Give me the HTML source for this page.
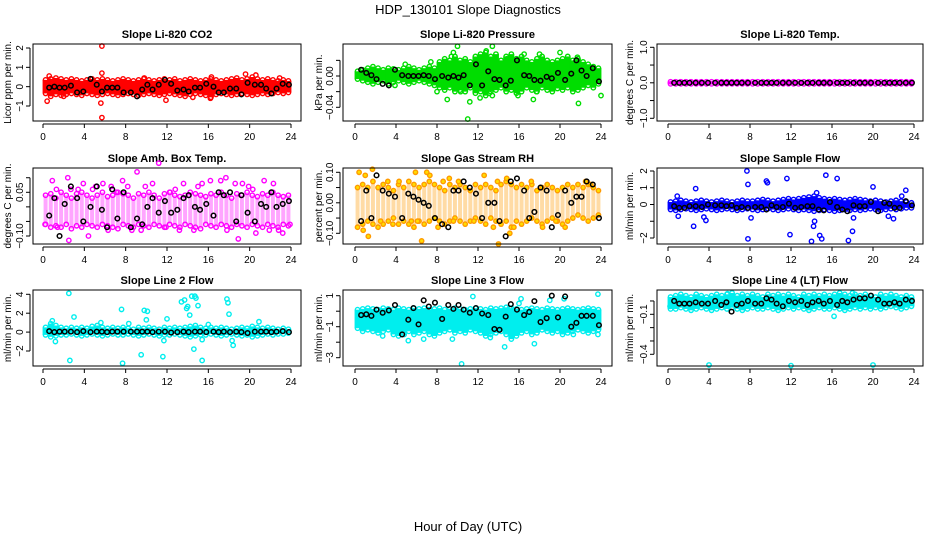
<!DOCTYPE html>
<html><head><meta charset="utf-8">
<style>
html,body{margin:0;padding:0;background:#fff;}
svg{display:block;font-family:"Liberation Sans",Arial,sans-serif;}
</style></head>
<body>
<svg id="fig" width="936" height="540" viewBox="0 0 936 540" xmlns="http://www.w3.org/2000/svg">
<rect width="936" height="540" fill="#fff"/>
<text x="468" y="14" font-size="13" text-anchor="middle">HDP_130101  Slope Diagnostics</text>
<text x="468" y="531" font-size="13" text-anchor="middle">Hour of Day (UTC)</text>
</svg>
<script>
// ---- shared data ----
const xTicks = [0,4,8,12,16,20,24];
const blackHours = [0.6,1.1,1.6,2.1,2.7,3.3,3.9,4.6,5.2,5.7,6.2,6.7,7.2,7.8,8.5,9.1,9.6,10.1,10.6,11.2,11.8,12.4,13,13.6,14.1,14.7,15.2,15.8,16.5,17,17.5,18.1,18.7,19.2,19.8,20.5,21.1,21.6,22.1,22.6,23.2,23.8];

// Panel 1: CO2
const co2Hi = [0.35,0.4,0.45,0.4,0.35,0.4,0.35,0.3,0.35,0.4,0.35,0.4,0.35,0.3,0.35,0.4,0.35,0.3,0.35,0.4,0.35,0.3,0.35,0.4,0.35,0.4,0.3,0.35,0.4,0.35,0.3,0.35,0.4,0.35,0.3,0.35,0.4,0.45,0.35,0.4,0.5,0.4,0.35,0.4,0.35,0.3,0.35,0.3];
const co2Lo = [-0.35,-0.5,-0.4,-0.45,-0.4,-0.35,-0.4,-0.45,-0.35,-0.4,-0.45,-0.4,-0.35,-0.4,-0.45,-0.4,-0.35,-0.4,-0.45,-0.4,-0.35,-0.4,-0.45,-0.4,-0.35,-0.4,-0.45,-0.5,-0.4,-0.35,-0.4,-0.45,-0.55,-0.4,-0.35,-0.4,-0.45,-0.4,-0.35,-0.4,-0.45,-0.4,-0.35,-0.4,-0.35,-0.3,-0.35,-0.3];
const co2OutX = [5.7,5.7,5.6,5.7,0.4,11.9,20.6,19.6,16.3,0.6,16.2,14.5,2,9.8,22.9];
const co2OutY = [2.1,0.7,-0.85,-1.6,-0.75,-0.7,0.6,0.65,0.5,0.55,-0.6,-0.55,-0.5,0.45,0.45];
const co2Black = [-0.05,0,-0.05,-0.05,0.05,-0.3,-0.25,0.4,0.1,-0.25,-0.05,-0.05,-0.05,-0.3,-0.3,-0.5,-0.15,0.1,-0.15,0.1,0.35,0.15,-0.2,-0.15,-0.25,-0.05,-0.05,0.15,0,-0.3,-0.3,-0.1,-0.1,-0.4,0.2,0.1,0.1,-0.1,-0.35,-0.1,0.15,0.1];

// Panel 2: Pressure
const prHi = [0.006,0.008,0.01,0.012,0.01,0.008,0.01,0.009,0.008,0.01,0.012,0.01,0.008,0.01,0.012,0.01,0.018,0.022,0.02,0.025,0.02,0.022,0.018,0.025,0.028,0.03,0.025,0.028,0.02,0.025,0.028,0.022,0.025,0.02,0.018,0.022,0.025,0.02,0.018,0.02,0.022,0.025,0.02,0.022,0.018,0.015,0.012,0.01];
const prLo = [-0.004,-0.006,-0.008,-0.01,-0.008,-0.006,-0.01,-0.008,-0.006,-0.008,-0.01,-0.008,-0.006,-0.008,-0.01,-0.012,-0.015,-0.018,-0.015,-0.02,-0.018,-0.02,-0.015,-0.022,-0.02,-0.025,-0.02,-0.018,-0.015,-0.02,-0.018,-0.022,-0.02,-0.015,-0.018,-0.02,-0.015,-0.018,-0.02,-0.016,-0.018,-0.015,-0.02,-0.018,-0.015,-0.012,-0.015,-0.01];
const prOutX = [11,10,13.4,9.6,20,21.8,9,11.2,12.2,15.9,17.4,24,13.4,8,3.9,9.4,14.8,16.5,18,21.7,17.7,12.8,13.1,10.3,7.4,4.9];
const prOutY = [-0.055,0.038,0.038,0.03,0.03,-0.035,-0.03,-0.033,-0.028,-0.025,-0.03,-0.025,-0.025,-0.02,-0.012,0.025,0.022,0.028,0.028,0.024,-0.02,0.032,-0.022,-0.02,0.018,0.015];
const prBlack = [0.008,0.004,0.001,-0.004,-0.01,-0.012,0.008,0.001,0,0,0,0.001,0,-0.004,0,-0.002,0,-0.002,0.001,-0.012,0.015,-0.012,0.006,-0.004,-0.005,-0.012,-0.006,0.02,0.001,0,-0.005,-0.006,-0.001,-0.003,0.004,-0.005,0.003,0.02,0.007,0,0.01,-0.007];

// Panel 3: Li-820 temp
const tHi = Array.from({length:48},()=>0.03);
const tLo = Array.from({length:48},()=>-0.03);
const tOutX = [];
const tOutY = [];
const tBlack = blackHours.map(()=>0);

// Panel 4: Amb box temp
const ambHi = [0.04,0.045,0.03,0.05,0.04,0.03,0.045,0.05,0.04,0.03,0.04,0.05,0.035,0.04,0.05,0.045,0.04,0.03,0.045,0.04,0.05,0.04,0.03,0.045,0.05,0.04,0.035,0.04,0.05,0.045,0.04,0.035,0.045,0.04,0.05,0.04,0.03,0.045,0.04,0.05,0.04,0.035,0.045,0.04,0.05,0.04,0.035,0.04];
const ambLo = [-0.06,-0.07,-0.065,-0.07,-0.06,-0.075,-0.065,-0.07,-0.06,-0.065,-0.07,-0.06,-0.065,-0.07,-0.075,-0.06,-0.065,-0.07,-0.06,-0.065,-0.07,-0.06,-0.065,-0.07,-0.06,-0.065,-0.07,-0.06,-0.065,-0.07,-0.075,-0.06,-0.065,-0.07,-0.06,-0.065,-0.07,-0.06,-0.065,-0.07,-0.06,-0.065,-0.07,-0.06,-0.065,-0.07,-0.06,-0.065];
const ambOutX = [0.2,0.9,1.4,2.4,2.5,3.4,3.9,4.4,5.1,5.8,6.6,7.1,7.7,8.6,9.1,9.9,10.6,11.2,11.9,12.8,13.6,14.6,15.4,16.2,17.2,17.7,18.6,18.9,19.3,19.9,20.6,21.4,22.3,22.8,23.2,23.9,2.7,4.8,6.3,8.2,9.5,13.2,15,17.8,20.3,21.9,1.3,12.3];
const ambOutY = [-0.06,0.09,-0.07,0.1,-0.115,0.06,0.08,-0.1,0.07,0.08,0.07,0.05,0.09,-0.08,0.12,0.07,0.08,0.15,-0.07,0.06,0.08,-0.08,0.08,0.09,0.09,0.1,0.08,-0.11,0.08,0.07,-0.09,0.09,0.08,-0.08,-0.09,-0.06,0.06,0.06,-0.08,0.07,-0.08,-0.08,0.07,-0.08,0.06,-0.08,0.06,0.05];
const ambBlack = [-0.03,0.03,-0.1,0.01,0.07,0.03,-0.05,0.0,0.07,-0.01,-0.07,0.06,-0.04,0.05,-0.07,-0.04,-0.06,0.0,0.03,-0.02,0.02,-0.02,-0.01,0.03,0.04,0.0,-0.01,0.01,-0.03,0.05,0.04,0.05,-0.05,0.04,-0.02,-0.05,0.01,0.0,0.05,0.0,0.01,0.02];

// Panel 5: Gas stream RH
const rhHi = [0.05,0.06,0.05,0.07,0.05,0.06,0.05,0.04,0.06,0.05,0.07,0.06,0.05,0.06,0.07,0.06,0.05,0.04,0.06,0.05,0.06,0.05,0.04,0.06,0.05,0.06,0.05,0.04,0.06,0.07,0.06,0.05,0.06,0.05,0.06,0.04,0.05,0.06,0.05,0.04,0.05,0.06,0.05,0.06,0.05,0.06,0.05,0.04];
const rhLo = [-0.08,-0.07,-0.06,-0.07,-0.08,-0.07,-0.06,-0.05,-0.07,-0.06,-0.07,-0.08,-0.06,-0.07,-0.06,-0.05,-0.06,-0.07,-0.06,-0.05,-0.06,-0.07,-0.06,-0.05,-0.06,-0.07,-0.05,-0.06,-0.07,-0.06,-0.08,-0.06,-0.07,-0.06,-0.05,-0.06,-0.07,-0.06,-0.05,-0.06,-0.07,-0.06,-0.05,-0.04,-0.05,-0.06,-0.05,-0.04];
const rhOutX = [0.4,1.0,1.3,1.7,2.5,3.2,3.7,4.3,5.5,5.9,6.5,7.3,8.1,8.6,9.6,10.1,12.6,13.5,14.0,14.8,15.5,15.1,17.2,18.3,19.6,20.5,22.5,23.0,0.8,6.1,7.0,11.6,13.9,9.2];
const rhOutY = [0.1,0.09,-0.11,0.11,-0.06,0.07,-0.07,0.07,-0.06,0.1,-0.125,0.09,-0.08,0.07,-0.06,0.07,0.09,-0.08,-0.135,0.08,-0.08,-0.1,0.07,-0.08,-0.06,-0.08,0.07,0.06,-0.09,-0.06,0.1,-0.06,0.07,0.08];
const rhBlack = [-0.06,0.04,-0.05,0.09,0.04,0.03,0.02,-0.05,0.03,0.02,0.01,0.0,-0.01,-0.05,-0.07,-0.08,0.04,0.04,0.07,0.05,0.03,-0.05,0.0,0.0,-0.06,-0.11,0.07,0.08,0.04,-0.05,-0.03,0.05,0.04,-0.08,-0.04,0.04,0.0,0.02,0.02,0.07,0.06,-0.05];

// Panel 6: Sample flow
const sfHi = [0.15,0.2,0.25,0.2,0.15,0.2,0.25,0.2,0.15,0.2,0.25,0.2,0.15,0.2,0.25,0.2,0.2,0.25,0.3,0.25,0.2,0.25,0.3,0.35,0.3,0.35,0.4,0.45,0.5,0.4,0.35,0.3,0.35,0.3,0.25,0.3,0.35,0.3,0.25,0.2,0.25,0.2,0.15,0.2,0.25,0.2,0.15,0.1];
const sfLo = [-0.3,-0.35,-0.3,-0.25,-0.3,-0.35,-0.3,-0.25,-0.3,-0.35,-0.3,-0.25,-0.3,-0.35,-0.3,-0.25,-0.3,-0.35,-0.3,-0.25,-0.3,-0.35,-0.3,-0.25,-0.3,-0.35,-0.3,-0.35,-0.4,-0.35,-0.3,-0.35,-0.4,-0.35,-0.3,-0.35,-0.3,-0.35,-0.3,-0.25,-0.3,-0.35,-0.3,-0.25,-0.3,-0.25,-0.2,-0.2];
const sfOutX = [0.9,1.0,2.5,2.7,3.5,3.7,7.7,7.8,7.8,9.6,9.7,11.6,11.9,14.0,14.2,14.5,14.8,15.0,15.4,16.5,17.6,18.0,18.1,20.0,21.5,22.0,22.8,23.2,14.3,8.1];
const sfOutY = [0.5,-0.7,-1.3,0.95,-0.75,-0.95,2.0,1.2,-2.05,1.4,1.3,1.55,-1.8,-2.2,-1.3,0.7,-1.85,-2.05,1.75,1.55,-2.15,-1.6,-0.8,1.05,-0.7,-0.85,0.5,0.85,-1.0,-0.8];
const sfBlack = [-0.1,-0.2,-0.2,-0.1,-0.1,-0.15,0.0,-0.05,-0.05,-0.1,-0.05,-0.2,-0.15,-0.2,-0.15,-0.15,-0.3,-0.05,-0.15,-0.15,0.05,-0.2,-0.15,-0.1,-0.1,-0.3,-0.35,0.15,-0.15,-0.3,-0.4,-0.05,-0.1,-0.1,0.15,-0.4,0.1,0.05,-0.2,-0.2,0.2,-0.05];

// Panel 7: Line 2 flow
const l2Hi = [0.5,0.9,0.7,0.5,0.4,0.5,0.4,0.5,0.4,0.6,0.7,0.5,0.4,0.5,0.4,0.5,0.4,0.3,0.5,0.4,0.5,0.4,0.3,0.5,0.4,0.5,0.4,0.5,0.6,0.7,0.5,0.4,0.5,0.4,0.5,0.4,0.3,0.4,0.5,0.4,0.6,0.5,0.4,0.5,0.4,0.3,0.4,0.3];
const l2Lo = [-0.3,-0.5,-0.4,-0.3,-0.3,-0.2,-0.3,-0.4,-0.3,-0.2,-0.3,-0.4,-0.3,-0.2,-0.3,-0.3,-0.2,-0.3,-0.4,-0.3,-0.2,-0.3,-0.4,-0.3,-0.3,-0.2,-0.3,-0.4,-0.5,-0.4,-0.3,-0.3,-0.2,-0.3,-0.4,-0.3,-0.2,-0.3,-0.4,-0.3,-0.5,-0.4,-0.3,-0.2,-0.3,-0.2,-0.2,-0.1];
const l2OutX = [2.5,2.6,3.0,0.9,1.2,7.6,7.7,8.3,9.5,9.8,10.0,10.1,11.6,11.7,12.0,13.4,13.7,13.9,14.0,14.2,14.4,14.7,14.8,15.0,14.6,15.4,15.4,17.8,17.9,18.0,18.3,18.4,20.9,5.6,16.0];
const l2OutY = [4.1,-3.0,1.6,1.2,-1.0,2.4,-3.3,0.9,-2.4,2.3,1.3,2.2,-2.6,-0.9,1.4,3.2,3.4,2.5,2.7,1.8,3.8,3.8,3.6,2.8,-1.8,-3.0,-0.8,3.5,3.1,1.9,-0.9,-1.4,1.1,1.0,0.8];
const l2Black = [0.1,0,0.05,0.05,0.05,0,0.1,0,0.05,0.05,0,0.05,0.05,0.05,0.05,0.05,0.05,0.05,0,0.05,0.05,-0.05,0,0.05,0,0.05,0.05,0,0.05,0,0.05,0,0.05,0,-0.1,0.05,0.05,0.05,0,0.05,0.1,0];

// Panel 8: Line 3 flow
const l3Hi = [0.1,0.15,0.2,0.15,0.1,0.2,0.15,0.1,0.2,0.15,0.1,0.2,0.15,0.2,0.1,0.15,0.2,0.1,0.15,0.2,0.15,0.1,0.15,0.2,0.15,0.1,0.2,0.15,0.2,0.25,0.2,0.15,0.1,0.15,0.2,0.15,0.1,0.2,0.15,0.1,0.15,0.2,0.15,0.1,0.15,0.2,0.15,0.1];
const l3Lo = [-1.1,-1.3,-1.2,-1.3,-1.4,-1.3,-1.2,-1.5,-1.6,-1.4,-1.3,-1.5,-1.4,-1.3,-1.5,-1.6,-1.4,-1.3,-1.2,-1.4,-1.3,-1.4,-1.2,-1.3,-1.4,-1.6,-1.5,-1.4,-1.3,-1.5,-1.8,-1.6,-1.4,-1.3,-1.5,-1.4,-1.2,-1.3,-1.4,-1.3,-1.5,-1.4,-1.3,-1.2,-1.3,-1.4,-1.3,-1.2];
const l3OutX = [2.7,5.2,6.7,10.4,11.5,14.6,15.1,17.5,19.0,20.4,23.7,23.7,4.8,9.5,13.2,16.2,16.0,21.3];
const l3OutY = [-1.6,-1.9,-1.8,-3.4,0.95,-2.3,0.2,-2.1,0.7,0.8,1.1,-1.5,-1.5,-1.8,-1.7,0.8,0.5,-1.5];
const l3Black = [-0.25,-0.2,-0.3,0.1,-0.1,0.05,0.4,-1.5,-0.55,0.2,-0.85,0.7,0.3,0.55,-0.5,0.4,0.15,0.4,0.1,-0.1,0.2,-0.15,-0.25,-1.15,-1.2,-0.35,0.45,0.1,-0.25,-0.05,0.65,-0.7,-0.45,1.0,-0.4,0.95,-1.0,-0.75,-0.3,-0.3,-0.3,-0.9];

// Panel 9: Line 4 flow
const l4Hi = [0.03,0.04,0.05,0.04,0.03,0.05,0.04,0.03,0.04,0.05,0.04,0.05,0.06,0.04,0.05,0.04,0.05,0.04,0.03,0.05,0.04,0.05,0.04,0.05,0.04,0.03,0.05,0.04,0.05,0.04,0.05,0.04,0.05,0.06,0.05,0.04,0.05,0.04,0.05,0.04,0.03,0.05,0.04,0.05,0.04,0.03,0.04,0.03];
const l4Lo = [-0.06,-0.06,-0.05,-0.06,-0.07,-0.06,-0.05,-0.06,-0.07,-0.06,-0.05,-0.06,-0.05,-0.06,-0.07,-0.06,-0.05,-0.06,-0.06,-0.05,-0.06,-0.07,-0.06,-0.05,-0.06,-0.05,-0.06,-0.07,-0.06,-0.05,-0.06,-0.06,-0.05,-0.06,-0.07,-0.06,-0.05,-0.06,-0.05,-0.06,-0.05,-0.06,-0.05,-0.04,-0.05,-0.06,-0.05,-0.04];
const l4OutX = [4.0,12.0,20.0,16.2,5.8,18.0,0.2];
const l4OutY = [-0.48,-0.485,-0.48,-0.115,0.055,0.06,-0.04];
const l4Black = [0.0,-0.02,-0.02,-0.02,-0.01,-0.02,-0.02,0.0,-0.03,-0.01,-0.08,-0.03,-0.02,0.0,-0.02,-0.02,0.02,0.01,-0.02,-0.04,0.0,-0.01,0.0,-0.03,-0.01,0.0,-0.02,0.0,-0.03,0.0,-0.01,0.01,0.02,0.02,0.04,0.01,-0.02,-0.02,-0.01,-0.02,0.01,0.0];

// ---- layout (not data) ----
const NS = 'http://www.w3.org/2000/svg';
const svg = document.getElementById('fig');
const cols = [{l:33,r:301,x0:43,x24:291,lab:11},{l:343,r:612,x0:355,x24:601,lab:322},{l:657,r:923,x0:668,x24:914,lab:633}];
const rows = [{t:44,b:121},{t:168,b:244},{t:290,b:366}];

function mk(tag, attrs, parent){
  const e = document.createElementNS(NS, tag);
  for (const k in attrs) e.setAttribute(k, attrs[k]);
  (parent||svg).appendChild(e);
  return e;
}

function panel(o){
  const c = cols[o.col], r = rows[o.row];
  const g = mk('g', {});
  
  
  const xs = h => c.x0 + (c.x24 - c.x0) * h / 24;
  const ys = v => o.p1 + (o.p2 - o.p1) * (v - o.v1) / (o.v2 - o.v1);
  const t = mk('text', {x:(c.l+c.r)/2, y:r.t-6, 'font-size':11, 'font-weight':'bold', 'text-anchor':'middle'}, g);
  t.textContent = o.title;
  
  
  const yl = mk('text', {transform:`translate(${c.lab},${(r.t+r.b)/2}) rotate(-90)`, 'font-size':10, 'text-anchor':'middle'}, g);
  yl.textContent = o.ylab;
  
  
  const dense = o.dense;
  for (let i = 0; i < o.hi.length; i++) {
    const x = xs(0.25 + i*0.5);
    const seg = mk('line', {x1:x, x2:x, y1:ys(o.hi[i]), y2:ys(o.lo[i]), stroke:o.color, 'stroke-width':dense?6:4, opacity:dense?1:0.35}, g);
    
    
    [o.hi[i], o.lo[i]].forEach(v => {
      const p = mk('circle', {cx:x, cy:ys(v), r:2.2, fill:o.fill||'none', stroke:o.color, 'stroke-width':1.4}, g);
      
      
    });
  }
  for (let i = 0; i < o.ox.length; i++) {
    const p = mk('circle', {cx:xs(o.ox[i]), cy:ys(o.oy[i]), r:2.2, fill:o.fill||'none', stroke:o.color, 'stroke-width':1.4}, g);
    
    
  }
  for (let i = 0; i < o.black.length; i++) {
    const p = mk('circle', {cx:xs(blackHours[i]), cy:ys(o.black[i]), r:2.3, fill:'none', stroke:'#000', 'stroke-width':1.5}, g);
    
    
  }
  const box = mk('rect', {x:c.l, y:r.t, width:c.r-c.l, height:r.b-r.t, fill:'none', stroke:'#000', 'stroke-width':1}, g);
  
  
  const ax = r.b + 3;
  mk('line', {x1:xs(0), x2:xs(24), y1:ax, y2:ax, stroke:'#000'}, g);
  xTicks.forEach(h => {
    mk('line', {x1:xs(h), x2:xs(h), y1:ax, y2:ax+4, stroke:'#000'}, g);
    const tl = mk('text', {x:xs(h), y:ax+16, 'font-size':10, 'text-anchor':'middle'}, g);
    tl.textContent = h;
    
    
  });
  const yx = c.l - 3;
  mk('line', {x1:yx, x2:yx, y1:ys(o.ticks[0]), y2:ys(o.ticks[o.ticks.length-1]), stroke:'#000'}, g);
  o.ticks.forEach((v, i) => {
    mk('line', {x1:yx-4, x2:yx, y1:ys(v), y2:ys(v), stroke:'#000'}, g);
    if (o.labels[i] !== '') {
      const tl = mk('text', {transform:`translate(${yx-7},${ys(v)}) rotate(-90)`, 'font-size':10, 'text-anchor':'middle'}, g);
      tl.textContent = o.labels[i];
      
      
    }
  });
}

const RED='#ff0000', GREEN='#00dd00', MAG='#ff00ff', ORG='#ff9a00', BLUE='#0000ff', CYAN='#00eeee';
panel({name:'panel-co2', col:0,row:0,title:'Slope Li-820 CO2',ylab:'Licor ppm per min.',color:RED,dense:true,hi:co2Hi,lo:co2Lo,ox:co2OutX,oy:co2OutY,black:co2Black,v1:2,p1:48,v2:-1,p2:106,ticks:[2,1,0,-1],labels:['2','1','0','\u22121']});
panel({name:'panel-pressure', col:1,row:0,title:'Slope Li-820 Pressure',ylab:'kPa per min.',color:GREEN,dense:true,hi:prHi,lo:prLo,ox:prOutX,oy:prOutY,black:prBlack,v1:0,p1:76,v2:-0.04,p2:107.3,ticks:[0.02,0,-0.02,-0.04],labels:['','0.00','','\u22120.04']});
panel({name:'panel-li820-temp', col:2,row:0,title:'Slope Li-820 Temp.',ylab:'degrees C per min.',color:MAG,dense:true,hi:tHi,lo:tLo,ox:tOutX,oy:tOutY,black:tBlack,v1:1,p1:47.3,v2:-1,p2:118.3,ticks:[1,0.5,0,-0.5,-1],labels:['1.0','','0.0','','\u22121.0']});
panel({name:'panel-amb-box-temp', col:0,row:1,title:'Slope Amb. Box Temp.',ylab:'degrees C per min.',color:MAG,dense:false,hi:ambHi,lo:ambLo,ox:ambOutX,oy:ambOutY,black:ambBlack,v1:0.05,p1:192.3,v2:-0.1,p2:236,ticks:[0.1,0.05,0,-0.05,-0.1],labels:['','0.05','','','\u22120.10']});
panel({name:'panel-gas-rh', col:1,row:1,title:'Slope Gas Stream RH',ylab:'percent per min.',color:ORG,fill:'#ffdd00',dense:false,hi:rhHi,lo:rhLo,ox:rhOutX,oy:rhOutY,black:rhBlack,v1:0.1,p1:172.3,v2:-0.1,p2:233.3,ticks:[0.1,0.05,0,-0.05,-0.1],labels:['0.10','','0.00','','\u22120.10']});
panel({name:'panel-sample-flow', col:2,row:1,title:'Slope Sample Flow',ylab:'ml/min per min.',color:BLUE,dense:true,hi:sfHi,lo:sfLo,ox:sfOutX,oy:sfOutY,black:sfBlack,v1:2,p1:171,v2:-2,p2:238,ticks:[2,1,0,-1,-2],labels:['2','1','0','','\u22122']});
panel({name:'panel-line2-flow', col:0,row:2,title:'Slope Line 2 Flow',ylab:'ml/min per min.',color:CYAN,dense:true,hi:l2Hi,lo:l2Lo,ox:l2OutX,oy:l2OutY,black:l2Black,v1:4,p1:294.3,v2:-2,p2:351,ticks:[4,2,0,-2],labels:['4','2','0','\u22122']});
panel({name:'panel-line3-flow', col:1,row:2,title:'Slope Line 3 Flow',ylab:'ml/min per min.',color:CYAN,dense:true,hi:l3Hi,lo:l3Lo,ox:l3OutX,oy:l3OutY,black:l3Black,v1:1,p1:295.7,v2:-3,p2:357.7,ticks:[1,0,-1,-2,-3],labels:['1','','\u22121','','\u22123']});
panel({name:'panel-line4-flow', col:2,row:2,title:'Slope Line 4 (LT) Flow',ylab:'ml/min per min.',color:CYAN,dense:true,hi:l4Hi,lo:l4Lo,ox:l4OutX,oy:l4OutY,black:l4Black,v1:-0.1,p1:314.3,v2:-0.4,p2:354.3,ticks:[0,-0.1,-0.2,-0.3,-0.4],labels:['','\u22120.1','','','\u22120.4']});
</script>
</body></html>
